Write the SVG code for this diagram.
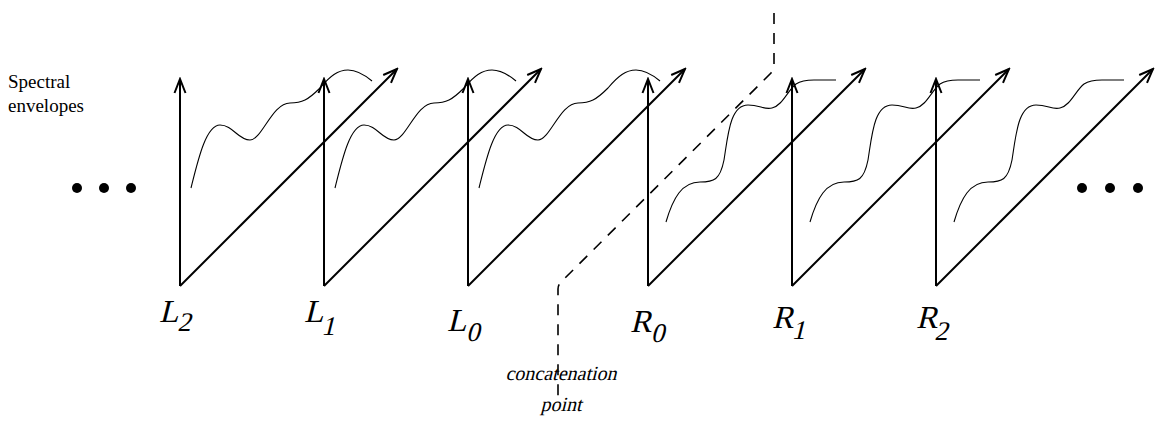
<svg xmlns="http://www.w3.org/2000/svg" xmlns:xlink="http://www.w3.org/1999/xlink" width="1160" height="447" viewBox="0 0 1160 447">
<style>
.ax{stroke:#000;stroke-width:2;fill:none;marker-end:url(#arr)}
.env{stroke:#000;stroke-width:1.1;fill:none}
.lbl{font-family:"Liberation Serif","Times New Roman",serif;font-style:normal;fill:#000}
.main{font-size:32px}
.sub{font-size:27px}
.txt{font-family:"Liberation Serif","Times New Roman",serif;font-size:19px;fill:#000}
.cap{font-family:"Liberation Serif","Times New Roman",serif;font-style:normal;font-size:20px;fill:#000}
.dash{stroke:#000;stroke-width:1.6;fill:none;stroke-dasharray:11 9}
</style>
<defs>
<marker id="arr" viewBox="-16 -7 18 14" markerWidth="18" markerHeight="14" refX="0" refY="0" orient="auto" markerUnits="userSpaceOnUse">
<path d="M-14,-5.5 L0,0 L-14,5.5" fill="none" stroke="#000" stroke-width="2"/>
</marker>
<path id="lcurve" d="M11,188 C18,160 26,125 40,125 C53,125 58,140 70,140 C82,140 92,103 110,103 C122,103 128,100 140,88 C150,76 158,70 168,70 C178,70 186,76 192,81"/>
<path id="rcurve" d="M18,222 C25,198 34,182 52,182 C66,182 72,180 76,160 C80,135 82,105 100,105 C112,105 116,110 124,108 C134,106 140,90 148,84 C154,80 160,80 166,80 L188,80"/>
</defs>
<rect width="1160" height="447" fill="#fff"/>
<g id="title">
<text class="txt" x="8" y="88">Spectral</text>
<text class="txt" x="8" y="112">envelopes</text>
</g>
<g id="dots-left">
<circle cx="77" cy="188" r="5"/><circle cx="104" cy="188" r="5"/><circle cx="131" cy="188" r="5"/>
</g>
<g id="dots-right">
<circle cx="1082" cy="188" r="5"/><circle cx="1110" cy="188" r="5"/><circle cx="1138" cy="188" r="5"/>
</g>
<g id="L2">
<use xlink:href="#lcurve" class="env" x="180"/>
<line class="ax" x1="180" y1="286" x2="180" y2="79"/>
<line class="ax" x1="180" y1="286" x2="397" y2="69"/>
<text class="lbl" transform="translate(159,322) skewX(-14)"><tspan class="main">L</tspan><tspan class="sub" dx="1" dy="9">2</tspan></text>
</g>
<g id="L1">
<use xlink:href="#lcurve" class="env" x="324"/>
<line class="ax" x1="324" y1="286" x2="324" y2="79"/>
<line class="ax" x1="324" y1="286" x2="541" y2="69"/>
<text class="lbl" transform="translate(304,322) skewX(-14)"><tspan class="main">L</tspan><tspan class="sub" dx="1" dy="13">1</tspan></text>
</g>
<g id="L0">
<use xlink:href="#lcurve" class="env" x="468"/>
<line class="ax" x1="468" y1="286" x2="468" y2="79"/>
<line class="ax" x1="468" y1="286" x2="685" y2="69"/>
<text class="lbl" transform="translate(447,331) skewX(-14)"><tspan class="main">L</tspan><tspan class="sub" dx="2" dy="10">0</tspan></text>
</g>
<g id="R0">
<use xlink:href="#rcurve" class="env" x="648"/>
<line class="ax" x1="648" y1="286" x2="648" y2="79"/>
<line class="ax" x1="648" y1="286" x2="865" y2="69"/>
<text class="lbl" transform="translate(630,332) skewX(-14)"><tspan class="main">R</tspan><tspan class="sub" dx="2" dy="10">0</tspan></text>
</g>
<g id="R1">
<use xlink:href="#rcurve" class="env" x="792"/>
<line class="ax" x1="792" y1="286" x2="792" y2="79"/>
<line class="ax" x1="792" y1="286" x2="1009" y2="69"/>
<text class="lbl" transform="translate(772,328) skewX(-14)"><tspan class="main">R</tspan><tspan class="sub" dx="1" dy="11">1</tspan></text>
</g>
<g id="R2">
<use xlink:href="#rcurve" class="env" x="936"/>
<line class="ax" x1="936" y1="286" x2="936" y2="79"/>
<line class="ax" x1="936" y1="286" x2="1153" y2="69"/>
<text class="lbl" transform="translate(916,328) skewX(-14)"><tspan class="main">R</tspan><tspan class="sub" dx="0" dy="12">2</tspan></text>
</g>
<g id="connectors">
<path class="dash" d="M774,13 L774,66 Q774,70 771,73 L561,282 Q558,285 558,289 L558,397"/>
</g>
<g id="concat-label">
<text class="cap" transform="translate(561,380) skewX(-14)" text-anchor="middle">concatenation</text>
<text class="cap" transform="translate(561,411) skewX(-14)" text-anchor="middle">point</text>
</g>
</svg>
